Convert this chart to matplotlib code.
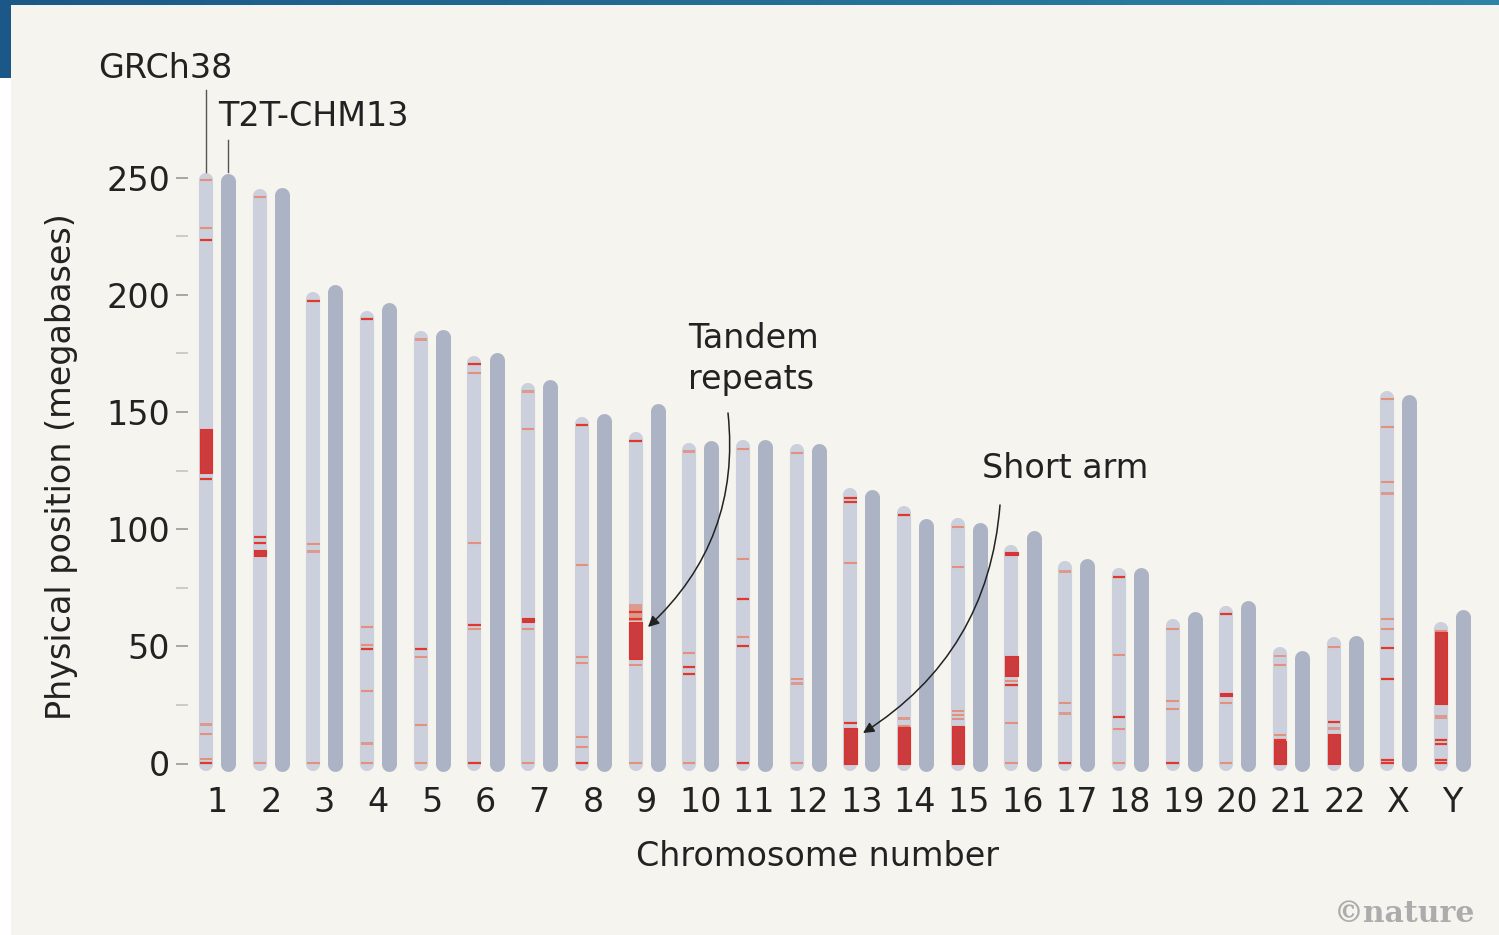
#imports
import numpy as np
import matplotlib.pyplot as plt
from matplotlib.patches import Rectangle
from matplotlib.colors import LinearSegmentedColormap

#chromosome data (megabases)
chroms = ['1', '2', '3', '4', '5', '6', '7', '8', '9', '10', '11', '12',
          '13', '14', '15', '16', '17', '18', '19', '20', '21', '22', 'X', 'Y']
grch38_len = [248.9, 242.2, 198.3, 190.2, 181.5, 170.8, 159.3, 145.1, 138.4, 133.8, 135.1, 133.3,
              114.4, 107.0, 102.0, 90.3, 83.3, 80.4, 58.6, 64.4, 46.7, 50.8, 156.0, 57.2]
t2t_len = [248.4, 242.7, 201.1, 193.6, 182.0, 172.1, 160.6, 146.3, 150.6, 134.8, 135.1, 133.3,
           113.6, 101.2, 99.8, 96.3, 84.3, 80.5, 61.7, 66.2, 45.1, 51.3, 154.3, 62.5]

#gaps in GRCh38: thin red lines, thin pale lines, pale bands, red blocks
red_lines = [[223.3, 121.6, 0.4], [96.8, 93.9], [197.4], [189.7, 48.9], [48.9],
             [170.4, 59.2, 0.4], [], [144.5, 0.4], [137.7, 61.8, 64.5], [41.2, 38.3],
             [70.2, 50.3, 0.4], [], [113.4, 111.4, 17.4], [106.2], [], [33.5],
             [0.4], [79.6, 19.9], [0.4], [63.7], [9.9], [17.6],
             [49.3, 36.0, 1.5, 0.4], [10.0, 8.3, 1.5, 0.4]]
pale_lines = [[249.0, 228.4, 12.6, 2.1], [241.9, 0.4], [93.6, 0.4], [58.2, 50.6, 30.9, 0.4],
              [45.5, 16.5, 0.4], [166.8, 94.2, 57.3], [142.8, 57.3, 0.4], [84.8, 45.3, 42.8, 11.2, 7.0],
              [42.1, 0.4], [47.2, 0.4], [134.2, 87.3, 53.9], [132.5, 36.1, 0.4],
              [85.6], [16.2], [101.1, 84.0, 22.6, 20.8, 19.1], [35.3, 17.4, 0.4],
              [25.9], [46.3, 14.8, 0.4], [57.5, 26.7, 23.3], [25.9, 0.4], [42.1, 12.2], [49.6],
              [155.6, 143.6, 120.0, 61.7, 57.5], [56.7]]
pale_blocks = [[(15.8, 17.2)], [], [(90.0, 91.2)], [(7.9, 9.1)], [(180.2, 181.4)], [],
               [(158.1, 159.3)], [], [(61.0, 68.1)], [(132.5, 133.7)], [], [(33.4, 34.6)],
               [], [(18.5, 19.7)], [], [], [(81.2, 82.4), (20.9, 22.1)], [], [], [],
               [(45.3, 46.5)], [(14.2, 15.5)], [(114.6, 116.0)], [(19.1, 20.6)]]
red_blocks = [[(124.1, 142.6)], [(88.7, 91.3)], [], [], [], [], [(60.5, 61.9)], [],
              [(44.7, 60.3)], [], [], [], [(0.0, 15.1)], [(0.0, 15.5)], [(0.0, 16.2)],
              [(37.4, 45.8), (89.2, 90.3)], [], [], [], [(29.0, 30.3)], [(0.0, 9.4)],
              [(0.0, 12.7)], [], [(25.5, 56.0)]]

yticks = [0, 50, 100, 150, 200, 250]
yminor = [25, 75, 125, 175, 225]

#colours
bg = '#f5f4ee'
light_bar = '#cbd0dc'
dark_bar = '#abb3c4'
red = '#e0392c'
pale = '#e3907f'
block_red = '#cc3b3d'
txt = '#222222'

W, H = 1499, 935
fig = plt.figure(figsize=(W/100, H/100), dpi=100, facecolor='white')

#panel background and the blue header strip
fig.patches.append(Rectangle((11/W, 0), 1 - 11/W, 1 - 5/H, transform=fig.transFigure,
                             facecolor=bg, edgecolor='none', zorder=-10))
fig.patches.append(Rectangle((0, 1 - 78/H), 11/W, 78/H, transform=fig.transFigure,
                             facecolor='#1b5888', edgecolor='none', zorder=-10))
strip = fig.add_axes([0, 1 - 5/H, 1, 5/H])
strip.imshow(np.linspace(0, 1, 256)[None, :], aspect='auto',
             cmap=LinearSegmentedColormap.from_list('b', ['#1b5888', '#2c84a6']))
strip.axis('off')

#main axes, placed so the bars land where they do in the figure
left, right, bottom, top = 188, 1490, 775, 60
ax = fig.add_axes([left/W, 1 - bottom/H, (right - left)/W, (bottom - top)/H])
ax.set_facecolor('none')
ax.set_zorder(2)
px = 53.7   #pixels per chromosome
ax.set_xlim((left - 217)/px, (right - 217)/px)
ax.set_ylim(-(bottom - 763.5)/2.343, (763.5 - top)/2.343)

off = 0.205
hw = 0.115
x = np.arange(len(chroms))
for i in range(len(chroms)):
    xl = x[i] - off
    xd = x[i] + off
    ax.plot([xl, xl], [0, grch38_len[i]], color=light_bar, lw=10.2, solid_capstyle='round', zorder=1)
    ax.plot([xd, xd], [0, t2t_len[i]], color=dark_bar, lw=10.8, solid_capstyle='round', zorder=1)
    for lo, hi in pale_blocks[i]:
        ax.add_patch(Rectangle((xl - hw, lo), 2*hw, hi - lo, facecolor='#dc9a8e', edgecolor='none', zorder=2))
    for y in pale_lines[i]:
        ax.hlines(y, xl - hw, xl + hw, color=pale, lw=1.5, zorder=3)
    for lo, hi in red_blocks[i]:
        ax.add_patch(Rectangle((xl - hw, lo), 2*hw, hi - lo, facecolor=block_red, edgecolor='#e0302a',
                               lw=0.8, zorder=4))
    for y in red_lines[i]:
        ax.hlines(y, xl - hw, xl + hw, color=red, lw=1.6, zorder=5)

#axes styling
for s in ax.spines.values():
    s.set_visible(False)
fs = 24
ax.set_xticks(x)
ax.set_xticklabels(chroms, fontsize=fs, color=txt)
ax.tick_params(axis='x', length=0, pad=8)
ax.set_yticks(yticks)
ax.set_yticklabels([str(v) for v in yticks], fontsize=fs, color=txt)
ax.set_yticks(yminor, minor=True)
ax.tick_params(axis='y', which='major', length=9, width=1.2, color='#999999', pad=4)
ax.tick_params(axis='y', which='minor', length=9, width=1.2, color='#c4c4c4')

fig.text(818/W, 1 - 857/H, 'Chromosome number', fontsize=fs, color=txt, ha='center', va='center')
fig.text(62/W, 1 - 467/H, 'Physical position (megabases)', fontsize=fs, color=txt,
         ha='center', va='center', rotation=90)

#labels for the two assemblies
def dx(p):
    return (p - 217)/px
def dy(p):
    return (763.5 - p)/2.343

ax.text(dx(98), dy(68), 'GRCh38', fontsize=fs, color=txt, ha='left', va='center', clip_on=False)
ax.plot([-off, -off], [dy(90), dy(172)], color='#555555', lw=1, clip_on=False)
ax.text(dx(218), dy(117), 'T2T-CHM13', fontsize=fs, color=txt, ha='left', va='center', clip_on=False)
ax.plot([off, off], [dy(140), dy(172)], color='#555555', lw=1, clip_on=False)

#annotations
ax.text(dx(688), dy(359), 'Tandem\nrepeats', fontsize=fs, color=txt, ha='left', va='center', linespacing=1.32)
ax.annotate('', xy=(dx(648), dy(627)), xytext=(dx(728), dy(413)),
            arrowprops=dict(arrowstyle='-|>', color='#222222', lw=1.1, mutation_scale=16,
                            connectionstyle='arc3,rad=-0.25', shrinkA=0, shrinkB=0))
ax.text(dx(982), dy(469), 'Short arm', fontsize=fs, color=txt, ha='left', va='center')
ax.annotate('', xy=(dx(863), dy(733)), xytext=(dx(1000), dy(505)),
            arrowprops=dict(arrowstyle='-|>', color='#222222', lw=1.1, mutation_scale=16,
                            connectionstyle='arc3,rad=-0.25', shrinkA=0, shrinkB=0))

fig.text(1475/W, 1 - 913/H, '\u00a9nature', fontsize=21.5, color='#acacac', ha='right', va='center',
         family='DejaVu Serif', weight='bold')

plt.savefig('out.png', dpi=100, facecolor=fig.get_facecolor())
